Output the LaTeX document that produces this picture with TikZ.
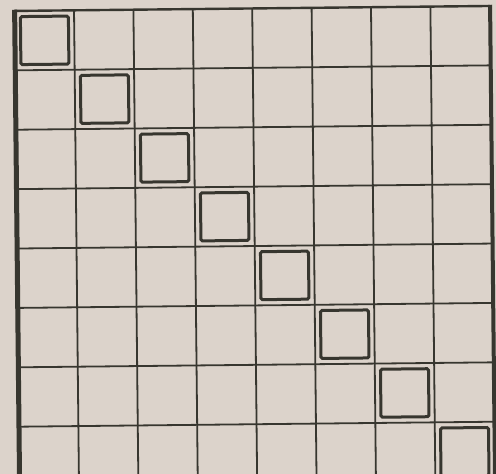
\documentclass[tikz,border=0pt]{standalone}
\definecolor{paper}{RGB}{220,211,203}
\definecolor{ink}{RGB}{55,54,47}
\begin{document}
\begin{tikzpicture}[x=1pt,y=-1pt,
  gridline/.style={draw=ink,line width=1.8pt},
  leftborder/.style={draw=ink,line width=5pt},
  rightborder/.style={draw=ink,line width=4pt},
  topborder/.style={draw=ink,line width=2.4pt},
  cellbox/.style={draw=ink,line width=3pt,rounded corners=1.5pt}]
\useasboundingbox (0,0) rectangle (496,474);
\fill[paper] (0,0) rectangle (496,474);
\clip (0,0) rectangle (496,474);
\begin{scope}[rotate around={0.6:(248,237)}]
  % inner vertical lines
  \foreach \i in {1,...,7}{
    \draw[gridline] ({17+59.4*\i},8.5) -- ({17+59.4*\i},500);
  }
  % inner horizontal lines
  \foreach \j in {1,...,8}{
    \draw[gridline] (17,{8.5+59.4*\j}) -- (492.5,{8.5+59.4*\j});
  }
  % borders
  \draw[topborder] (17,8.5) -- (492.5,8.5);
  \draw[leftborder] (17,7.3) -- (17,500);
  \draw[rightborder] (492.5,7.3) -- (492.5,500);
  % diagonal squares
  \foreach \i in {0,...,7}{
    \draw[cellbox] ({17+59.4*\i+5.7},{8.5+59.4*\i+5.7}) rectangle ++(48,48);
  }
\end{scope}
\end{tikzpicture}
\end{document}
